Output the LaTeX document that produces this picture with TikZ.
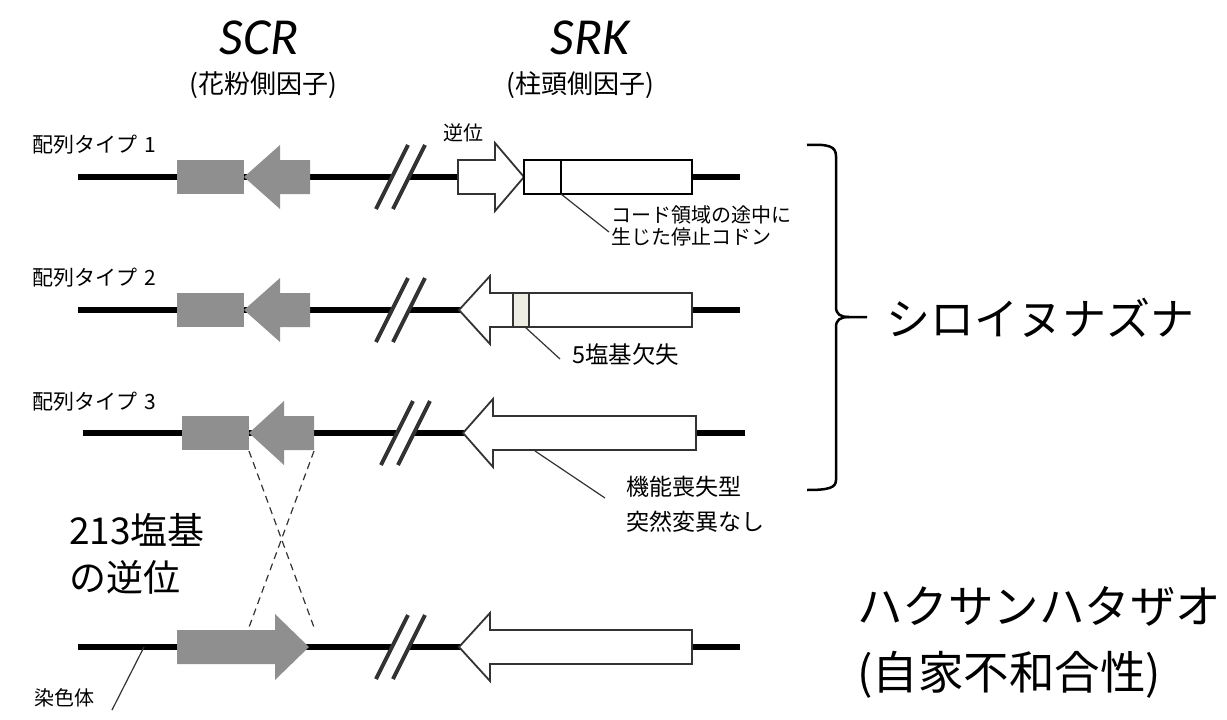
\documentclass[tikz,border=0pt]{standalone}
\usepackage{fontspec}
\setmainfont{Noto Sans CJK JP}
\newfontfamily\latinit{Carlito}
\newcommand\myfs[1]{\fontsize{#1}{#1}\selectfont}
\definecolor{genegray}{HTML}{8F8F8F}
\definecolor{delfill}{HTML}{EDEDE4}
\definecolor{outl}{HTML}{333333}
\tikzset{
  chrom/.style={line width=5.5pt, black},
  slashmark/.style={line width=4pt, color=outl},
  genefill/.style={fill=genegray},
  whitegene/.style={draw=outl, line width=1.8pt, fill=white, line join=miter},
  boxline/.style={draw=black, line width=1.8pt, fill=white},
  leader/.style={line width=1.2pt, color=outl},
  crossline/.style={line width=1.2pt, color=outl, dash pattern=on 7pt off 5pt},
  bracestyle/.style={line width=2.5pt, black},
  lbl/.style={inner sep=0pt, align=left}
}
\newcommand\brkmark[2]{%
  \draw[slashmark] ({#1-16},{#2+32}) -- ({#1+16},{#2-32});
  \draw[slashmark] ({#1+1},{#2+32}) -- ({#1+33},{#2-32});}
\begin{document}
\begin{tikzpicture}[x=1pt,y=-1pt]
\useasboundingbox (0,0) rectangle (1227,720);

% ---- titles
\node[lbl] (scr) at (259,38) {\latinit\itshape\myfs{52}SCR};
\node[lbl] (scrsub) at (263,85) {\myfs{26}(花粉側因子)};
\node[lbl] (srk) at (590,38) {\latinit\itshape\myfs{52}SRK};
\node[lbl] (srksub) at (580,85) {\myfs{26}(柱頭側因子)};

% ---- row 1
\node[lbl, anchor=west] (t1) at (32,145) {\myfs{21}配列タイプ\hspace{0.35em}1};
\draw[chrom] (78,177) -- (392,177);
\draw[chrom] (409,177) -- (740,177);
\brkmark{392}{177}
\fill[genefill] (177,160) rectangle (244,194);
\fill[genefill] (244,177) -- (280,145) -- (280,160) -- (310,160) -- (310,194) -- (280,194) -- (280,209) -- cycle;
\draw[whitegene] (458,160) -- (495,160) -- (495,143) -- (524,177) -- (495,211) -- (495,194) -- (458,194) -- cycle;
\draw[boxline] (524,160) rectangle (692,194);
\draw[boxline] (561,160) -- (561,194);
\node[lbl] (inv1) at (463,133) {\myfs{20}逆位};
\coordinate (stop) at (561,194);
\coordinate (stopend) at (609,232);
\draw[leader] (stop) -- (stopend);
\node[lbl, anchor=west] (stoptxt) at (611,228) {\myfs{20}\begin{tabular}{@{}l@{}}コード領域の途中に\\[0pt]生じた停止コドン\end{tabular}};

% ---- row 2
\node[lbl, anchor=west] (t2) at (32,278) {\myfs{21}配列タイプ\hspace{0.35em}2};
\draw[chrom] (78,310) -- (392,310);
\draw[chrom] (409,310) -- (740,310);
\brkmark{392}{310}
\fill[genefill] (177,293) rectangle (244,327);
\fill[genefill] (244,310) -- (280,278) -- (280,293) -- (310,293) -- (310,327) -- (280,327) -- (280,342) -- cycle;
\draw[whitegene] (459,310) -- (490,276) -- (490,293) -- (692,293) -- (692,327) -- (490,327) -- (490,344) -- cycle;
\draw[whitegene, fill=delfill] (513,293) rectangle (529,327);
\coordinate (del) at (525,327);
\coordinate (delend) at (560,359);
\draw[leader] (del) -- (delend);
\node[lbl, anchor=west] (deltxt) at (572,354) {\myfs{23.5}5塩基欠失};

% ---- row 3
\node[lbl, anchor=west] (t3) at (32,402) {\myfs{21}配列タイプ\hspace{0.35em}3};
\draw[chrom] (83,433) -- (397,433);
\draw[chrom] (414,433) -- (745,433);
\brkmark{397}{433}
\fill[genefill] (182,416) rectangle (249,450);
\fill[genefill] (249,433) -- (284,401) -- (284,416) -- (314,416) -- (314,450) -- (284,450) -- (284,465) -- cycle;
\draw[whitegene] (463,433) -- (493,399) -- (493,416) -- (696,416) -- (696,450) -- (493,450) -- (493,467) -- cycle;
\coordinate (nolof) at (535,451);
\coordinate (nolofend) at (605,498);
\draw[leader] (nolof) -- (nolofend);
\node[lbl, anchor=west] (noloftxt) at (626,507) {\myfs{23}\begin{tabular}{@{}l@{}}機能喪失型\\[9pt]突然変異なし\end{tabular}};

% ---- bottom row
\draw[chrom] (78,647) -- (392,647);
\draw[chrom] (409,647) -- (740,647);
\brkmark{392}{647}
\fill[genefill] (177,630) -- (275,630) -- (275,614) -- (309,647) -- (275,680) -- (275,664) -- (177,664) -- cycle;
\draw[whitegene] (459,647) -- (490,613) -- (490,630) -- (692,630) -- (692,664) -- (490,664) -- (490,681) -- cycle;

% ---- inversion cross
\coordinate (a3l) at (249,451);
\coordinate (a3r) at (314,451);
\coordinate (b4l) at (248,630);
\coordinate (b4r) at (315,630);
\draw[crossline] (a3l) -- (b4r);
\draw[crossline] (a3r) -- (b4l);
\node[lbl, anchor=west] (inv213) at (69,558) {\myfs{37}\begin{tabular}{@{}l@{}}213塩基\\[4pt]の逆位\end{tabular}};

% ---- chromosome label
\coordinate (chr) at (144,647);
\coordinate (chrend) at (112,710);
\draw[leader] (chr) -- (chrend);
\node[lbl, anchor=west] (chrtxt) at (34,698) {\myfs{20}染色体};

% ---- brace and species
\draw[bracestyle] (807,145) .. controls (828,144) and (836,146) .. (836,156) -- (836,307) .. controls (836,314) and (840,317) .. (849,317) -- (867,317);
\draw[bracestyle] (849,317) .. controls (840,317) and (836,320) .. (836,327) -- (836,480) .. controls (836,488) and (828,490) .. (807,490);
\node[lbl, anchor=west] (ara) at (886,318) {\myfs{44}シロイヌナズナ};
\node[lbl, anchor=west] (hak) at (857,645) {\myfs{45.5}\begin{tabular}{@{}l@{}}ハクサンハタザオ\\[14pt](自家不和合性)\end{tabular}};
\end{tikzpicture}
\end{document}
